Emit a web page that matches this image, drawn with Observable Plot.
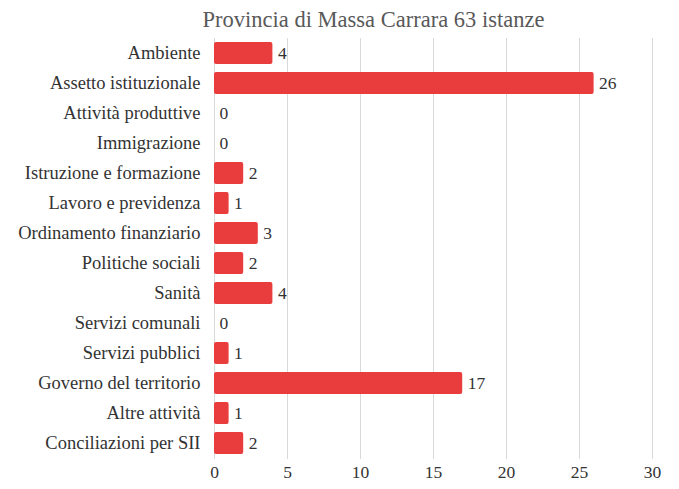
<!DOCTYPE html>
<html><head><meta charset="utf-8">
<script src="https://cdn.jsdelivr.net/npm/d3@7"></script>
<script src="https://cdn.jsdelivr.net/npm/@observablehq/plot@0.6"></script>
<style>
body{margin:0;background:#fff;font-family:"Liberation Serif",serif;}
#title{height:38px;position:relative;}
#title span{position:absolute;left:0;width:679px;text-align:center;padding-left:68px;box-sizing:border-box;top:7px;font-size:22.5px;color:#595959;white-space:nowrap;}
#chart svg, #chart svg text{font-family:"Liberation Serif",serif !important;}
#chart svg{display:block;}
</style></head>
<body>
<div id="title"><span>Provincia di Massa Carrara 63 istanze</span></div>
<div id="chart"></div>
<script>
const categories = ["Ambiente","Assetto istituzionale","Attività produttive","Immigrazione","Istruzione e formazione","Lavoro e previdenza","Ordinamento finanziario","Politiche sociali","Sanità","Servizi comunali","Servizi pubblici","Governo del territorio","Altre attività","Conciliazioni per SII"];
const values = [4,26,0,0,2,1,3,2,4,0,1,17,1,2];
const xTicks = [0,5,10,15,20,25,30];
const data = categories.map((c,i)=>({cat:c, v:values[i]}));
const chart = Plot.plot({
  width:679, height:451,
  marginTop:-1, marginBottom:30, marginLeft:214, marginRight:27,
  style:{fontFamily:"'Liberation Serif', serif", fontSize:"17px", color:"#333", background:"#fff"},
  x:{domain:[0,30], ticks:xTicks, grid:false, label:null},
  y:{domain:categories, paddingInner:0.27, paddingOuter:0.135, label:null},
  marks:[
    Plot.ruleX(xTicks,{stroke:"#d9d9d9", strokeWidth:1, strokeOpacity:1}),
    Plot.barX(data,{x:"v", y:"cat", fill:"#E93C3C", rx:2}),
    Plot.text(data,{x:"v", y:"cat", text:d=>String(d.v), textAnchor:"start", dx:5, fill:"#333", fontSize:17.5}),
    Plot.axisX({ticks:xTicks, tickSize:0, tickPadding:6, label:null, fontSize:17.5, fill:"#333"}),
    Plot.axisY({tickSize:0, tickPadding:14, label:null, fontSize:18.5, fill:"#333"})
  ]
});
document.getElementById("chart").appendChild(chart);
</script>
</body></html>
